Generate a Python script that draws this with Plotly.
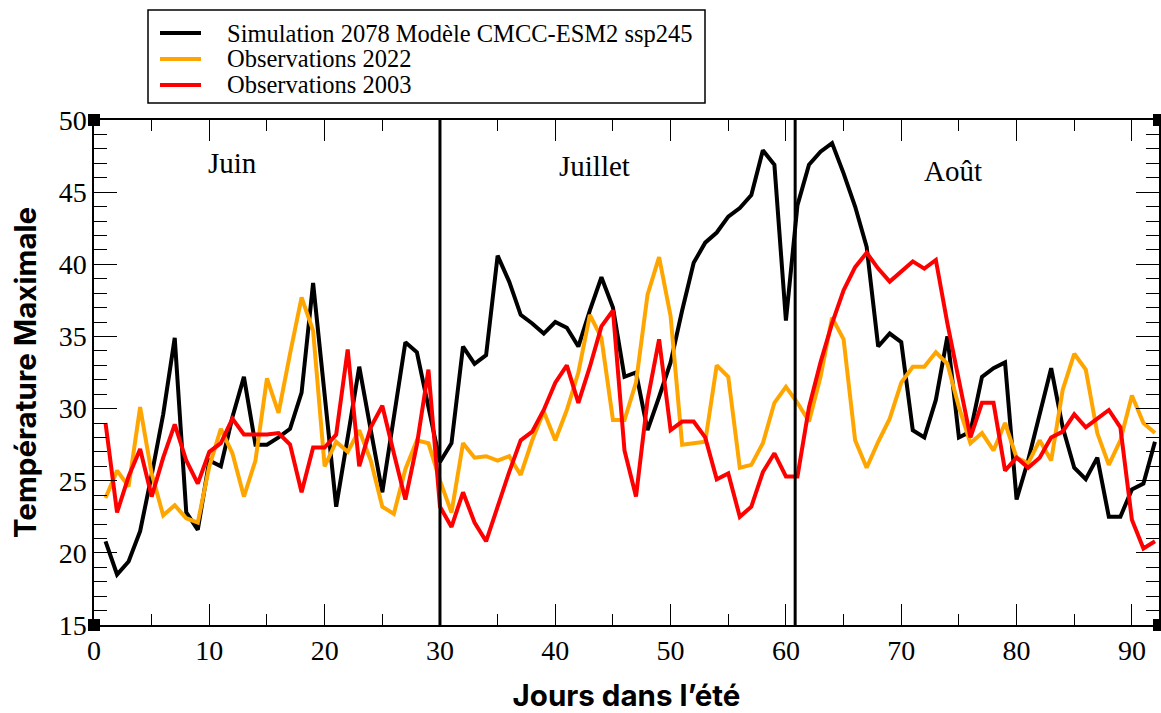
import plotly.graph_objects as go

days = list(range(1, 93))

simulation_2078 = [
    20.8, 18.5, 19.4, 21.5, 25.4, 29.6, 34.9, 22.8, 21.6, 26.4,
    26.0, 29.4, 32.2, 27.5, 27.5, 28.0, 28.6, 31.1, 38.7, 31.0,
    23.2, 28.0, 32.9, 28.5, 24.2, 29.4, 34.6, 33.9, 30.0, 26.3,
    27.6, 34.3, 33.1, 33.7, 40.6, 38.8, 36.5, 35.9, 35.2, 36.0,
    35.6, 34.3, 36.8, 39.1, 37.0, 32.2, 32.5, 28.5, 30.8, 33.2,
    36.8, 40.1, 41.5, 42.2, 43.3, 43.9, 44.8, 47.9, 46.9, 36.1,
    44.1, 46.9, 47.8, 48.4, 46.3, 44.0, 41.2, 34.3, 35.2, 34.6,
    28.5, 28.0, 30.6, 35.0, 28.0, 28.4, 32.2, 32.8, 33.2, 23.7,
    26.4, 29.7, 32.8, 28.7, 25.9, 25.1, 26.6, 22.5, 22.5, 24.4,
    24.8, 27.7,
]

observations_2022 = [
    23.8, 25.7, 24.6, 30.1, 25.5, 22.6, 23.3, 22.4, 22.1, 26.0,
    28.6, 26.9, 23.9, 26.4, 32.1, 29.7, 33.8, 37.7, 35.4, 26.0,
    27.7, 27.0, 28.5, 26.4, 23.2, 22.7, 25.8, 27.8, 27.6, 25.0,
    22.8, 27.6, 26.6, 26.7, 26.4, 26.7, 25.4, 27.8, 29.8, 27.8,
    29.9, 32.5, 36.5, 34.9, 29.2, 29.2, 31.8, 37.9, 40.5, 36.4,
    27.5, 27.6, 27.7, 33.0, 32.2, 25.9, 26.1, 27.6, 30.4, 31.5,
    30.4, 29.1, 32.2, 36.3, 34.8, 27.8, 25.9, 27.7, 29.3, 31.8,
    32.9, 32.9, 33.9, 33.1, 30.1, 27.6, 28.3, 27.1, 29.0, 26.6,
    26.2, 27.8, 26.4, 31.3, 33.8, 32.7, 28.3, 26.1, 27.8, 30.9,
    29.0, 28.3,
]

observations_2003 = [
    29.0, 22.8, 25.3, 27.2, 23.9, 26.6, 28.9, 26.4, 24.8, 27.0,
    27.6, 29.3, 28.2, 28.2, 28.2, 28.3, 27.5, 24.2, 27.3, 27.3,
    28.2, 34.1, 26.0, 28.7, 30.2, 26.9, 23.7, 27.5, 32.7, 23.2,
    21.8, 24.2, 22.1, 20.8, 23.3, 25.6, 27.8, 28.4, 29.9, 31.8,
    33.0, 30.4, 32.9, 35.7, 36.8, 27.1, 23.9, 30.6, 34.8, 28.5,
    29.1, 29.1, 28.0, 25.1, 25.5, 22.5, 23.2, 25.6, 26.9, 25.3,
    25.3, 30.1, 33.2, 35.9, 38.2, 39.8, 40.8, 39.7, 38.8, 39.5,
    40.2, 39.7, 40.3, 35.9, 32.0, 28.0, 30.4, 30.4, 25.7, 26.6,
    25.9, 26.6, 28.0, 28.4, 29.6, 28.7, 29.3, 29.9, 28.7, 22.3,
    20.3, 20.8,
]

series_names = [
    "Simulation 2078 Modèle CMCC-ESM2 ssp245",
    "Observations 2022",
    "Observations 2003",
]
series_colors = ["#000000", "#FFA500", "#FF0000"]

month_names = ["Juin", "Juillet", "Août"]
month_label_x = [12.0, 43.4, 74.5]
month_label_y = [47.0, 46.8, 46.5]
month_boundaries = [30, 60.8]

x_ticks = [0, 10, 20, 30, 40, 50, 60, 70, 80, 90]
y_ticks = [15, 20, 25, 30, 35, 40, 45, 50]

serif = "Liberation Serif, Times New Roman, serif"
sans = "Inter, Noto Sans, sans-serif"

# Plot-area geometry (pixels) used to place the legend box in paper units
W, H = 1161, 713
ML, MR, MT, MB = 94, 2, 120, 88
PW, PH = W - ML - MR, H - MT - MB


def px_x(p):
    return (p - ML) / PW


def px_y(p):
    return (H - MB - p) / PH


fig = go.Figure()
for name, color, vals in zip(series_names, series_colors,
                             [simulation_2078, observations_2022, observations_2003]):
    fig.add_trace(go.Scatter(x=days, y=vals, mode="lines", name=name,
                             line=dict(color=color, width=4)))

for xb in month_boundaries:
    fig.add_shape(type="line", x0=xb, x1=xb, y0=0, y1=1, xref="x", yref="paper",
                  line=dict(color="black", width=3))

for name, mx, my in zip(month_names, month_label_x, month_label_y):
    fig.add_annotation(x=mx, y=my, text=name, showarrow=False,
                       font=dict(family=serif, size=29, color="black"))

# small corner squares of the frame
for cx, cy in [(0, 0), (0, 1), (1, 0), (1, 1)]:
    fig.add_shape(type="rect", xref="paper", yref="paper",
                  xsizemode="pixel", ysizemode="pixel",
                  xanchor=cx, yanchor=cy, x0=-6, x1=6, y0=-6, y1=6,
                  fillcolor="black", line=dict(width=0))

# legend box drawn above the plot
fig.add_shape(type="rect", xref="paper", yref="paper",
              x0=px_x(148), x1=px_x(705), y0=px_y(103), y1=px_y(10),
              fillcolor="white", line=dict(color="black", width=1.5))
legend_rows_px = [33, 59, 85]
for name, color, row in zip(series_names, series_colors, legend_rows_px):
    fig.add_shape(type="line", xref="paper", yref="paper",
                  x0=px_x(160), x1=px_x(201), y0=px_y(row), y1=px_y(row),
                  line=dict(color=color, width=4))
    fig.add_annotation(xref="paper", yref="paper", x=px_x(225), y=px_y(row),
                       xanchor="left", yanchor="middle", text=name, showarrow=False,
                       font=dict(family=serif, size=24.5, color="black"))

axis_common = dict(
    showgrid=False, zeroline=False, showline=True, linecolor="black",
    linewidth=1.5, mirror="ticks", ticks="inside", tickcolor="black",
    automargin=False,
    tickfont=dict(family=serif, size=28, color="black"),
)

fig.update_layout(
    width=W, height=H,
    paper_bgcolor="white", plot_bgcolor="white",
    margin=dict(l=ML, r=MR, t=MT, b=MB),
    showlegend=False,
    xaxis=dict(
        range=[0, 92.35], tickvals=x_ticks, ticklen=21, tickwidth=1.2,
        minor=dict(dtick=5, tick0=0, ticklen=11, ticks="inside", tickcolor="black"),
        title=dict(text="Jours dans l’été", standoff=23,
                   font=dict(family=sans, size=29.5, color="black", weight=700)),
        **axis_common,
    ),
    yaxis=dict(
        range=[15, 50], tickvals=y_ticks, ticklen=23, tickwidth=1.2,
        minor=dict(dtick=1, tick0=15, ticklen=13, ticks="inside", tickcolor="black"),
        title=dict(text="Température Maximale", standoff=13,
                   font=dict(family=sans, size=29.5, color="black", weight=700)),
        **axis_common,
    ),
)

fig.write_html("out.html", config={"displayModeBar": False},
               post_script="document.body.style.margin='0';")
